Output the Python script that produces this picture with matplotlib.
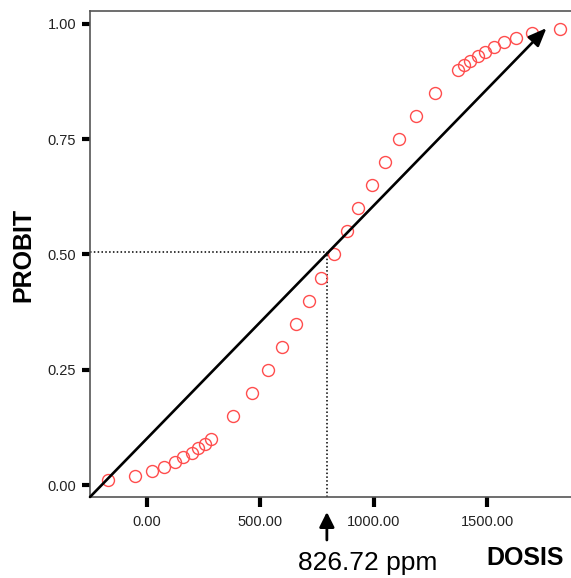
import matplotlib
matplotlib.use("Agg")
import matplotlib.pyplot as plt
import matplotlib.transforms as mtransforms

plt.rcParams["font.family"] = ["Liberation Sans", "DejaVu Sans"]

# probit points
dosis = [-169, -50, 25, 76, 123, 160, 198, 227, 258, 282,
         380, 463, 534, 596, 659, 716, 769, 825, 881, 932,
         994, 1050, 1111, 1186, 1270, 1374, 1398, 1424, 1458, 1493,
         1530, 1575, 1626, 1700, 1821]
probit = [0.01, 0.02, 0.03, 0.04, 0.05, 0.06, 0.07, 0.08, 0.09, 0.10,
          0.15, 0.20, 0.25, 0.30, 0.35, 0.40, 0.45, 0.50, 0.55, 0.60,
          0.65, 0.70, 0.75, 0.80, 0.85, 0.90, 0.91, 0.92, 0.93, 0.94,
          0.95, 0.96, 0.97, 0.98, 0.99]

line_start = (-250, -0.026)
line_end = (1762, 0.991)
cross_x = 794
cross_y = 0.505
lc50_label = "826.72 ppm"

x_ticks = [0, 500, 1000, 1500]
y_ticks = [0.0, 0.25, 0.50, 0.75, 1.00]

fig = plt.figure(figsize=(5.71, 5.78), dpi=100)
ax = fig.add_axes([90 / 571, 81 / 578, 481 / 571, 486 / 578])

ax.plot(dosis, probit, "o", mfc="none", mec="#ff4d4d", ms=8.6, mew=1.0,
        zorder=3)

ax.annotate("", xy=line_end, xytext=line_start,
            arrowprops=dict(arrowstyle="-|>,head_length=1.1,head_width=0.45",
                            color="black", lw=1.9, shrinkA=0, shrinkB=0),
            annotation_clip=False, zorder=4)

ax.plot([-250, cross_x], [cross_y, cross_y], color="black", lw=1.1,
        ls=(0, (1, 1.5)))
ax.plot([cross_x, cross_x], [-0.026, cross_y], color="black", lw=1.1,
        ls=(0, (1, 1.5)))

ax.set_xlim(-250, 1870)
ax.set_ylim(-0.026, 1.028)
ax.set_xticks(x_ticks)
ax.set_xticklabels([f"{v:.2f}" for v in x_ticks], fontsize=10.5)
ax.set_yticks(y_ticks)
ax.set_yticklabels([f"{v:.2f}" for v in y_ticks], fontsize=10.5)
ax.tick_params(axis="x", length=7, width=3, pad=6, color="black",
               labelcolor="#222222")
ax.tick_params(axis="y", length=6, width=3, pad=4, color="black",
               labelcolor="#222222")

for side in ["left", "top", "bottom"]:
    ax.spines[side].set_color("#555555")
    ax.spines[side].set_linewidth(1.2)
ax.spines["right"].set_visible(False)

trans = mtransforms.blended_transform_factory(ax.transData, fig.transFigure)
ax.annotate("", xy=(cross_x, 1 - 512 / 578), xytext=(cross_x, 1 - 540 / 578),
            xycoords=trans, textcoords=trans,
            arrowprops=dict(arrowstyle="-|>,head_length=0.9,head_width=0.45",
                            color="black", lw=2, shrinkA=0, shrinkB=0),
            annotation_clip=False)

fig.text(368 / 571, 1 - 563 / 578, lc50_label, fontsize=19,
         ha="center", va="center")
fig.text(525 / 571, 1 - 558 / 578, "DOSIS", fontsize=18, fontweight="bold",
         ha="center", va="center")
fig.text(23 / 571, 1 - 255 / 578, "PROBIT", fontsize=18, fontweight="bold",
         ha="center", va="center", rotation=90)

fig.savefig("out.png", dpi=100)
